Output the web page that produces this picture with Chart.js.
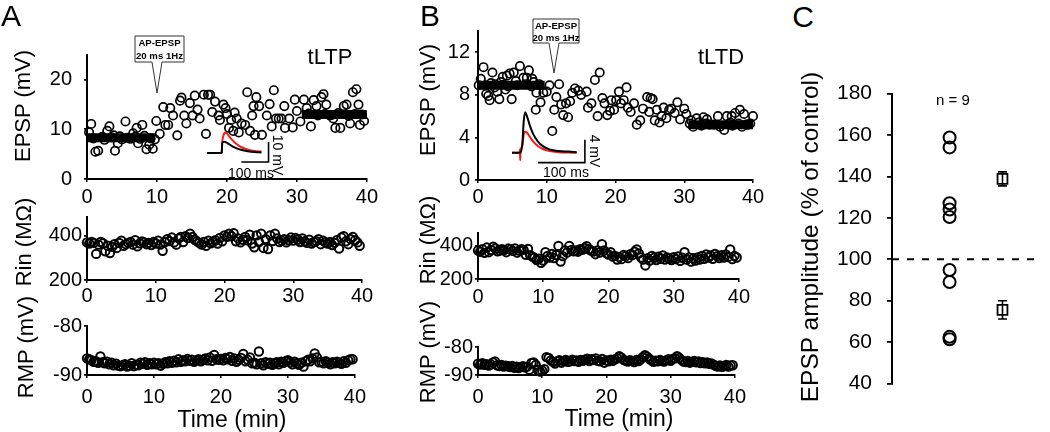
<!DOCTYPE html>
<html>
<head>
<meta charset="utf-8">
<script src="https://cdn.jsdelivr.net/npm/chart.js@4.4.1/dist/chart.umd.min.js"></script>
<style>
  body { margin: 0; width: 1050px; height: 432px; position: relative; overflow: hidden; background: #fff;
         font-family: "Liberation Sans", Arial, sans-serif; color: #000; }
  canvas { position: absolute; }
  .t { position: absolute; white-space: nowrap; line-height: 1; }
  svg { position: absolute; overflow: visible; }
</style>
</head>
<body>
<script>
// ---------- data ----------
const TIME_TICKS = [0, 10, 20, 30, 40];
const EPSP_A_TICKS = [0, 10, 20];
const EPSP_B_TICKS = [0, 4, 8, 12];
const RIN_TICKS = [200, 400];
const RMP_TICKS = [-90, -80];
const C_TICKS = [40, 60, 80, 100, 120, 140, 160, 180];

// panel A, EPSP amplitude (tLTP)
const epspA_min = [0.3,0.6,0.9,1.2,1.6,2.2,2.5,2.9,3.2,3.5,3.8,4.0,4.4,4.7,5.0,5.5,5.8,6.2,6.6,6.9,
  7.1,7.3,7.6,7.9,8.2,8.5,8.9,9.1,9.4,9.7,9.9,10.4,10.9,11.2,11.6,11.9,12.3,12.9,13.3,13.5,
  13.9,14.2,14.7,15.1,15.4,15.8,16.1,16.7,17.0,17.3,17.6,17.9,18.3,18.8,19.0,19.5,19.8,20.0,20.3,20.6,
  20.9,21.1,21.4,21.7,22.1,22.6,22.9,23.3,23.6,23.8,24.0,24.2,24.6,25.0,25.7,26.1,26.4,26.7,27.0,27.4,
  27.8,28.2,28.3,28.9,29.4,29.7,30.0,30.5,31.0,31.4,31.7,32.0,32.4,32.8,33.0,33.5,33.8,34.0,34.2,34.7,
  35.0,35.2,35.5,35.9,36.2,36.7,37.1,37.4,37.6,38.0,38.3,38.5,38.8,39.0,39.3,39.6];
const epspA_mV = [9.4,11.1,8.2,5.5,5.7,8.5,7.9,9.7,10.6,8.4,8.8,5.7,7.2,8.6,8.0,11.6,8.3,8.1,9.2,8.5,
  10.3,7.2,8.1,10.9,8.7,6.0,6.9,8.2,6.1,8.0,11.7,9.1,14.5,10.9,10.9,14.3,12.8,8.8,15.8,16.4,
  12.8,11.2,15.3,12.8,16.8,14.0,12.2,17.0,9.1,17.0,17.0,13.5,15.6,12.8,11.9,15.0,14.3,13.1,10.3,11.9,
  9.7,13.4,12.2,9.4,11.2,10.9,17.5,9.7,12.8,14.7,8.9,16.5,14.7,8.9,12.8,15.1,10.6,17.9,12.2,12.2,
  12.2,14.7,10.3,12.2,10.4,16.0,13.7,11.6,16.0,14.3,13.2,10.6,15.9,14.7,12.8,16.5,17.1,13.1,15.0,12.8,
  12.9,12.2,10.3,13.3,10.3,14.7,15.0,12.7,11.2,17.5,13.1,18.1,15.0,10.9,13.0,11.7];
const epspA_windows = [[0, 9.7], [30.7, 40]];
const epspA_means = [8.3, 13.0];

// panel B, EPSP amplitude (tLTD)
const epspB_min = [0.1,0.4,0.8,1.1,1.2,1.5,1.7,1.9,2.1,2.4,2.5,2.8,3.1,3.3,3.6,4.0,4.2,4.4,4.6,4.9,
  5.2,5.5,5.7,6.1,6.6,6.9,7.1,7.4,7.8,7.9,8.1,8.4,8.5,8.9,9.1,9.5,10.0,10.4,10.8,11.1,
  11.4,11.8,12.1,12.4,12.8,13.1,13.4,13.7,14.1,14.6,15.0,15.8,16.0,16.5,17.0,17.4,17.7,18.1,18.4,18.8,
  19.2,19.4,19.8,20.1,20.5,20.8,21.2,21.6,21.8,22.2,22.7,23.1,23.6,24.0,24.6,24.9,25.1,25.4,25.7,26.0,
  26.4,26.7,27.0,27.4,27.8,28.1,28.6,29.0,29.4,30.0,30.3,30.8,31.0,31.3,31.8,32.1,32.5,32.8,33.2,33.3,
  33.7,34.3,34.9,35.2,35.8,36.2,36.7,36.9,37.0,37.4,37.9,38.1,38.4,38.7,39.0,39.3,39.6,40.0];
const epspB_mV = [8.9,9.5,10.6,8.9,8.1,7.9,7.5,9.1,10.1,8.7,9.0,8.3,7.6,9.2,9.7,8.5,9.8,8.8,10.0,7.6,
  10.1,9.3,8.9,10.7,9.6,9.0,9.6,10.3,8.8,9.5,9.2,6.6,8.2,9.0,7.3,8.2,8.3,8.9,4.6,6.6,
  7.8,9.0,7.1,6.1,7.2,5.9,7.4,8.2,8.6,8.4,8.0,8.3,6.8,7.2,9.4,6.0,10.1,7.7,7.2,6.1,
  6.5,7.5,6.6,7.5,8.3,7.2,7.5,8.7,6.8,6.4,7.2,5.2,5.6,6.7,7.8,6.4,7.7,7.6,5.6,6.6,
  5.4,6.0,6.8,5.8,6.6,6.7,6.3,7.3,5.7,6.7,6.2,5.3,5.6,5.0,5.8,5.4,5.1,5.9,5.3,5.7,
  5.2,5.2,6.0,5.0,4.7,6.0,5.4,6.0,5.1,6.3,5.3,6.6,5.0,6.2,5.2,5.2,5.3,6.0];
const epspB_windows = [[0, 9.7], [30.6, 40]];
const epspB_means = [8.9, 5.2];

// input resistance and resting potential, one sample every 20 s
const sampleMin = Array.from({ length: 120 }, (_, i) => i / 3);
const rinA = [370,365,372,368,318,360,372,366,330,355,322,350,362,345,368,
  378,355,362,368,372,360,380,352,366,374,370,362,368,358,372,
  365,378,360,332,372,385,376,392,370,360,388,395,372,398,390,
  410,395,382,375,368,360,372,355,378,366,372,380,365,390,375,
  402,395,410,398,412,375,388,370,382,395,380,405,365,348,402,
  372,410,345,385,340,402,376,410,388,372,378,385,370,380,392,
  378,390,382,372,388,375,368,382,365,372,376,385,362,378,370,
  365,372,358,368,380,342,392,398,375,362,385,395,380,370,355];
const rmpA = [-86.6,-86.8,-87.0,-87.3,-87.2,-87.5,-86.2,-87.4,-87.6,-87.3,-87.8,-87.5,-88.0,-87.7,-88.1,
  -88.2,-88.0,-87.8,-88.3,-88.1,-87.6,-88.2,-87.9,-88.0,-87.5,-87.7,-87.4,-87.9,-87.6,-87.8,
  -87.5,-87.8,-87.6,-88.1,-87.7,-87.4,-87.6,-87.2,-87.5,-87.1,-87.4,-86.8,-87.3,-87.0,-87.2,
  -86.7,-87.1,-86.9,-87.3,-87.0,-86.8,-87.2,-86.9,-86.6,-87.0,-86.4,-87.1,-85.9,-86.8,-86.9,
  -86.7,-87.0,-86.5,-86.8,-86.3,-87.1,-86.6,-87.3,-86.9,-86.5,-85.7,-87.2,-86.9,-86.4,-87.6,
  -87.5,-87.8,-85.2,-87.6,-88.0,-87.4,-87.7,-87.5,-87.9,-87.6,-87.4,-87.8,-87.3,-87.5,-87.2,
  -87.0,-87.4,-87.8,-87.3,-87.6,-87.9,-87.5,-88.3,-87.2,-86.9,-87.2,-86.6,-85.6,-86.4,-87.4,
  -87.3,-87.6,-87.2,-87.5,-87.8,-87.4,-87.6,-87.3,-87.5,-87.7,-87.2,-87.5,-87.0,-86.8,-86.8];
const rinB = [372,365,380,358,390,362,375,395,385,368,372,380,375,362,384,
  378,370,385,360,372,380,376,346,382,344,335,328,315,322,298,
  312,362,340,330,352,326,345,400,306,338,372,360,400,375,368,
  372,365,380,376,388,398,380,372,366,350,372,360,410,372,356,
  348,362,335,340,318,332,320,345,338,326,350,345,365,378,355,
  330,318,282,325,312,340,328,315,335,322,342,318,330,325,315,
  332,320,336,310,328,362,318,330,305,325,312,330,318,340,322,
  348,330,342,322,352,338,326,344,330,348,332,378,320,340,330];
const rmpB = [-86.0,-86.3,-85.8,-86.4,-86.1,-86.6,-86.2,-85.5,-85.2,-86.5,-86.8,-86.4,-87.0,-86.7,-86.9,
  -87.2,-86.8,-87.4,-87.0,-87.5,-87.1,-86.9,-87.3,-87.0,-88.1,-85.7,-85.5,-86.4,-88.3,-88.8,
  -88.5,-87.9,-83.6,-83.9,-84.8,-85.3,-85.9,-85.2,-84.7,-85.6,-85.0,-84.6,-85.3,-85.1,-84.5,
  -85.0,-84.8,-85.3,-84.6,-84.9,-84.5,-84.2,-85.0,-84.4,-84.7,-84.1,-84.9,-85.1,-84.3,-85.6,
  -84.8,-85.1,-84.5,-84.9,-84.4,-84.0,-83.3,-83.8,-84.6,-84.9,-85.2,-84.7,-85.0,-85.4,-84.6,
  -85.0,-84.4,-83.6,-82.9,-83.5,-84.2,-84.8,-85.3,-84.9,-85.1,-84.6,-85.0,-85.2,-84.7,-84.4,
  -84.9,-84.3,-84.0,-83.3,-83.9,-84.6,-85.2,-85.4,-85.0,-85.6,-85.3,-85.0,-85.5,-85.2,-85.7,
  -85.4,-85.8,-85.5,-86.0,-85.9,-86.3,-86.7,-87.0,-86.6,-87.1,-86.8,-86.4,-87.0,-86.6,-86.5];

// example EPSP traces: black = before pairing, red = after
const traceA_ms = [0, 40, 52, 54, 56, 60, 66, 72, 80, 90, 105, 125, 150, 175, 200];
const traceA_pre = [0, 0, 0, 0.3, 5.0, 5.5, 5.6, 5.2, 4.5, 3.6, 2.6, 1.6, 0.9, 0.5, 0.3];
const traceA_post = [0, 0, 0, 0.3, 5.5, 8.5, 10.2, 10.0, 8.6, 6.9, 4.9, 3.0, 1.7, 1.0, 0.7];
const traceB_ms = [0, 16, 17, 17.5, 18, 22, 25, 28, 32, 38, 45, 55, 65, 80, 100, 120, 138];
const traceB_pre = [0, 0, 0, 0, 0, 1.5, 5.5, 7.1, 6.4, 4.8, 3.3, 2.0, 1.2, 0.6, 0.3, 0.2, 0.1];
const traceB_post = [0, 0, 0.6, -1.3, 0, 1.2, 3.2, 3.7, 3.5, 2.8, 2.0, 1.2, 0.7, 0.3, 0.1, 0.05, 0];
const scaleA = { ms: 100, mV: 10 };
const scaleB = { ms: 100, mV: 4 };

// panel C, normalised EPSP amplitude
const cGroups = [1, 2];
const cCells = [158.8, 154, 127, 124, 120.4, 94.8, 89, 62.5, 61.3];
const cMeans = [138.8, 75.5];
const cSem = [3.4, 4.4];
const CONTROL = 100;

// ---------- helpers ----------
const FONT = '"Liberation Sans", Arial, sans-serif';
Chart.defaults.font.family = FONT;
Chart.defaults.color = '#000';

function addText(str, x, y, size, opts = {}) {
  const d = document.createElement('div');
  d.className = 't';
  d.textContent = str;
  d.style.left = x + 'px';
  d.style.top = y + 'px';
  d.style.fontSize = size + 'px';
  if (opts.bold) d.style.fontWeight = 'bold';
  d.style.transform = 'translate(-50%,-50%)' + (opts.rot ? ' rotate(' + opts.rot + 'deg)' : '');
  document.body.appendChild(d);
}

function callout(l, t, r, b, tipX, tipY, half, lines) {
  const ns = 'http://www.w3.org/2000/svg';
  const svg = document.createElementNS(ns, 'svg');
  svg.setAttribute('width', 1050); svg.setAttribute('height', 432);
  svg.style.left = 0; svg.style.top = 0;
  const p = document.createElementNS(ns, 'path');
  p.setAttribute('d', `M${l} ${t}H${r}V${b}H${tipX + half}L${tipX} ${tipY}L${tipX - half} ${b}H${l}Z`);
  p.setAttribute('fill', '#fff'); p.setAttribute('stroke', '#333'); p.setAttribute('stroke-width', 1);
  svg.appendChild(p);
  document.body.appendChild(svg);
  const cx = (l + r) / 2, step = (b - t) / lines.length;
  lines.forEach((s, i) => addText(s, cx, t + step * (i + 0.5) + 0.5, 9.6, { bold: true }));
}

function plot(area, pad, scales, datasets, plugins = []) {
  const c = document.createElement('canvas');
  c.width = area.r - area.l + pad.l + pad.r;
  c.height = area.b - area.t + pad.t + pad.b;
  c.style.left = (area.l - pad.l) + 'px';
  c.style.top = (area.t - pad.t) + 'px';
  document.body.appendChild(c);
  return new Chart(c, {
    type: 'scatter',
    data: { datasets },
    options: {
      responsive: false, animation: false, events: [],
      layout: { padding: {
        top: pad.t, right: pad.r,
        bottom: scales.x.display === false ? pad.b : 0,
        left: scales.y.display === false ? pad.l : 0 } },
      plugins: { legend: { display: false }, tooltip: { enabled: false } },
      scales
    },
    plugins
  });
}

function xAxis(ticks, padB, labelPad) {
  return {
    type: 'linear', min: ticks[0], max: ticks[ticks.length - 1],
    afterBuildTicks: s => { s.ticks = ticks.map(v => ({ value: v })); },
    afterFit: s => { s.height = padB; },
    grid: { display: true, drawOnChartArea: false, drawTicks: true, tickLength: 3, color: '#000', lineWidth: 1.5 },
    border: { color: '#000', width: 2 },
    ticks: { font: { size: 20 }, padding: labelPad, maxRotation: 0, autoSkip: false }
  };
}

function yAxis(min, max, ticks, padL, tickLen, labelPad, size = 20) {
  return {
    type: 'linear', min, max,
    afterBuildTicks: s => { s.ticks = ticks.map(v => ({ value: v })); },
    afterFit: s => { s.width = padL; },
    grid: { display: true, drawOnChartArea: false, drawTicks: true, tickLength: tickLen, color: '#000', lineWidth: 1.8 },
    border: { color: '#000', width: 2 },
    ticks: { font: { size }, padding: labelPad, autoSkip: false }
  };
}

const dots = (xs, ys, r = 4.2, bw = 1.7) => ({
  data: xs.map((x, i) => ({ x, y: ys[i] })),
  pointRadius: r, pointBorderWidth: bw, pointBorderColor: '#000',
  pointBackgroundColor: 'rgba(0,0,0,0)', clip: false, order: 1
});
const meanBar = (win, v) => ({
  data: [{ x: win[0], y: v }, { x: win[1], y: v }], showLine: true,
  borderColor: '#000', borderWidth: 9, pointRadius: 0, clip: false, order: 0
});
const trace = (xs, ys, color) => ({
  data: xs.map((x, i) => ({ x, y: ys[i] })), showLine: true, borderColor: color,
  borderWidth: 2, pointRadius: 0, cubicInterpolationMode: 'monotone', clip: false
});
const scaleBar = (sc, endMs, baseMv) => ({
  data: [{ x: endMs - sc.ms, y: baseMv }, { x: endMs, y: baseMv }, { x: endMs, y: baseMv + sc.mV }],
  showLine: true, borderColor: '#000', borderWidth: 1.6, pointRadius: 0, borderJoinStyle: 'miter', clip: false
});

// ---------- panel A ----------
plot({ l: 87, t: 45, r: 367, b: 179 }, { l: 87, t: 14, r: 14, b: 28 },
  { x: xAxis(TIME_TICKS, 28, 3), y: yAxis(0, 25, EPSP_A_TICKS, 87, 3, 12) },
  [dots(epspA_min, epspA_mV), ...epspA_windows.map((w, i) => meanBar(w, epspA_means[i]))]);
plot({ l: 87, t: 213, r: 362, b: 280 }, { l: 87, t: 10, r: 14, b: 28 },
  { x: xAxis(TIME_TICKS, 28, 1), y: yAxis(200, 485, RIN_TICKS, 87, 3, 2) },
  [dots(sampleMin, rinA, 4.2, 2)]);
plot({ l: 87, t: 326, r: 359, b: 375 }, { l: 87, t: 14, r: 14, b: 30 },
  { x: xAxis(TIME_TICKS, 30, 7), y: yAxis(-90, -80, RMP_TICKS, 87, 3, 2) },
  [dots(sampleMin, rmpA, 4.2, 2)]);
plot({ l: 207, t: 129, r: 271, b: 165 }, { l: 0, t: 0, r: 0, b: 0 },
  { x: { type: 'linear', display: false, min: 0, max: 235 }, y: { type: 'linear', display: false, min: -6, max: 12 } },
  [scaleBar(scaleA, 226, -4.5), trace(traceA_ms, traceA_pre, '#000'), trace(traceA_ms, traceA_post, '#ee1c1c')]);

// ---------- panel B ----------
plot({ l: 478, t: 28, r: 753, b: 180 }, { l: 40, t: 14, r: 14, b: 28 },
  { x: xAxis(TIME_TICKS, 28, 2), y: yAxis(0, 14, EPSP_B_TICKS, 40, 3, 5) },
  [dots(epspB_min, epspB_mV), ...epspB_windows.map((w, i) => meanBar(w, epspB_means[i]))]);
plot({ l: 478, t: 229, r: 739, b: 279 }, { l: 40, t: 10, r: 14, b: 28 },
  { x: xAxis(TIME_TICKS, 28, 3), y: yAxis(200, 478, RIN_TICKS, 40, 3, 2) },
  [dots(sampleMin, rinB, 4.2, 2)]);
plot({ l: 478, t: 347, r: 739, b: 375 }, { l: 40, t: 14, r: 14, b: 30 },
  { x: xAxis(TIME_TICKS, 30, 7), y: yAxis(-90, -80, RMP_TICKS, 40, 3, 2) },
  [dots(sampleMin, rmpB, 4.2, 2)]);
plot({ l: 512, t: 110, r: 587, b: 167 }, { l: 0, t: 0, r: 0, b: 0 },
  { x: { type: 'linear', display: false, min: 0, max: 160 }, y: { type: 'linear', display: false, min: -2.5, max: 7.5 } },
  [scaleBar(scaleB, 155.5, -1.74), trace(traceB_ms, traceB_pre, '#000'), trace(traceB_ms, traceB_post, '#ee1c1c')]);

// ---------- panel C ----------
const errorBars = {
  id: 'errorBars',
  afterDatasetsDraw(chart) {
    const { ctx, scales: { x, y } } = chart;
    const px = x.getPixelForValue(cGroups[1]);
    ctx.save();
    ctx.strokeStyle = '#000';
    ctx.lineWidth = 1.6;
    cMeans.forEach((m, i) => {
      const top = y.getPixelForValue(m + cSem[i]), bot = y.getPixelForValue(m - cSem[i]);
      ctx.beginPath();
      ctx.moveTo(px, top); ctx.lineTo(px, bot);
      ctx.moveTo(px - 4.5, top); ctx.lineTo(px + 4.5, top);
      ctx.moveTo(px - 4.5, bot); ctx.lineTo(px + 4.5, bot);
      ctx.stroke();
    });
    ctx.restore();
  }
};
const cMin = -0.089, cMax = 2.732;
plot({ l: 892, t: 80, r: 1050, b: 397 }, { l: 80, t: 14, r: 0, b: 14 },
  { x: { type: 'linear', display: false, min: cMin, max: cMax },
    y: { ...yAxis(40, 180, C_TICKS, 80, 5, 15, 21) } },
  [
    { data: [{ x: cMin, y: CONTROL }, { x: cMax, y: CONTROL }], showLine: true, borderColor: '#000',
      borderWidth: 2, borderDash: [7, 8], pointRadius: 0, clip: false },
    { ...dots(cCells.map(() => cGroups[0]), cCells, 6), pointBorderWidth: 2 },
    { ...dots(cMeans.map(() => cGroups[1]), cMeans, 7), pointStyle: 'rect', pointBorderWidth: 1.8 }
  ], [errorBars]);

// ---------- text ----------
addText('A', 11, 16, 30);
addText('B', 430, 16, 30);
addText('C', 803, 17, 30);
addText('EPSP (mV)', 23, 106, 22, { rot: -90 });
addText('Rin (M\u03A9)', 24, 242, 22, { rot: -90 });
addText('RMP (mV)', 26, 347, 22, { rot: -90 });
addText('Time (min)', 232, 419, 23);
addText('EPSP (mV)', 428, 100, 22, { rot: -90 });
addText('Rin (M\u03A9)', 428, 240, 22, { rot: -90 });
addText('RMP (mV)', 428, 352, 22, { rot: -90 });
addText('Time (min)', 619, 418, 23);
addText('tLTP', 330, 57, 22);
addText('tLTD', 721, 57, 22);
addText('10 mV', 278, 155, 14, { rot: 90 });
addText('100 ms', 251, 173, 14);
addText('4 mV', 595, 151, 14, { rot: 90 });
addText('100 ms', 566, 172, 14);
addText('n = 9', 953, 99, 15);
addText('EPSP amplitude (% of control)', 810, 237, 24.5, { rot: -90 });
callout(135, 36, 184, 62, 157, 93, 5, ['AP-EPSP', '20 ms 1Hz']);
callout(533, 19, 579, 43, 554, 73, 5, ['AP-EPSP', '20 ms 1Hz']);
</script>
</body>
</html>
